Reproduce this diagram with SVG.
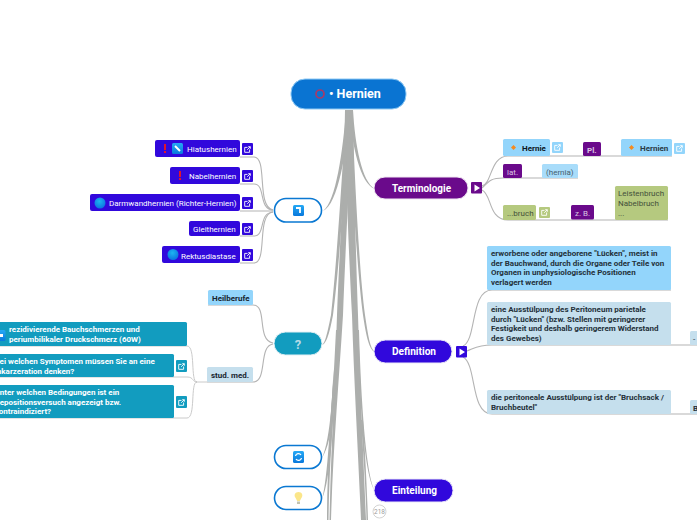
<svg xmlns="http://www.w3.org/2000/svg" width="697" height="520" viewBox="0 0 697 520">
<style>
text{font-family:Roboto,"Liberation Sans",sans-serif}
.t{fill:#acaeac}
.l{fill:none;stroke:#b4b4b4;stroke-width:1.1}
.lt{fill:none;stroke:#c4c4c4;stroke-width:.9}
.b{fill:#3108dc}
.s8{font-size:8px;fill:#fff}
.s8c{font-size:8px;font-weight:700;fill:#fff}
.d{font-size:8px;font-weight:700;fill:#24313a}
.g{font-size:8px;fill:#44503a}
.main{font-size:11.5px;font-weight:700;fill:#fff}
.hub{fill:#fff;stroke:#0a78d2;stroke-width:1.6}
.lk{fill:none;stroke:#fff;stroke-width:.9}
</style>
<defs>
<linearGradient id="ic" x1="0" y1="0" x2="0" y2="1"><stop offset="0" stop-color="#25a9f5"/><stop offset="1" stop-color="#0878dc"/></linearGradient>
<radialGradient id="glob" cx=".45" cy=".35" r=".7"><stop offset="0" stop-color="#1db4f0"/><stop offset="1" stop-color="#0a6ee0"/></radialGradient>
<g id="ln"><path class="lk" d="M7.600 5.500V8.300H2.700V3.400H5.500M5.200 5.800L8.200 2.800M6.200 2.700H8.300V4.800"/></g>
</defs>
<g id="connectors">
<path class="t" d="M345 110C344 180 339 260 337 315C335 380 331 450 329.500 520H331C333 450 339 380 343 315C345 260 349 180 353 110Z"/>
<path class="t" d="M345 110C346 180 349 260 352 315C354 380 358 450 361 520H366C363 450 360 380 358 315C356 260 354 180 353 110Z"/>
<path class="t" d="M346 110H349C345 180 339 270 333 315C329 336 326 344 322 345C325 343 327 335 331 315C336 270 342 180 346 110Z"/>
<path class="t" d="M348 110H352C355 180 359 270 365 315C368 335 370 349 375 352C369 350 366 335 363 315C357 270 352 180 348 110Z"/>
<path class="t" d="M346 110H350C347 150 338 205 323 211C336 202 343 150 346 110Z"/>
<path class="t" d="M349 110H353C355 145 362 182 375 189C360 184 352 145 349 110Z"/>
<path class="t" d="M336 330H338C336 390 334 440 322 458C331 438 333 390 336 330Z"/>
<path class="t" d="M334 370H336C333 420 331 480 322 499C328 478 330 420 334 370Z"/>
<path class="t" d="M333 380H335C332 430 329 480 328.500 520H327C327 480 330 430 333 380Z"/>
<path class="t" d="M357 330H359C361 400 366 475 375 491C364 475 360 400 357 330Z"/>
<path class="t" d="M361 420H363C365 450 367 490 368 520H366.500C366 490 363 450 361 420Z"/>
<path class="l" d="M240 157H254C268 157 256 207 273 210"/>
<path class="l" d="M240 184H254C266 184 258 209 273 210"/>
<path class="l" d="M240 211H254C262 211 264 211 273 211"/>
<path class="l" d="M240 236H254C266 236 258 213 273 212"/>
<path class="l" d="M240 263H254C268 263 256 214 273 212"/>
<path class="l" d="M208 305H253C268 305 256 340 273 343"/>
<path class="l" d="M207 382H253C268 382 258 346 273 344"/>
<path class="lt" d="M207 382H196"/>
<path class="lt" d="M0 346H187C196 346 190 382 197 382"/>
<path class="lt" d="M0 377H187C194 377 192 382 197 382"/>
<path class="lt" d="M0 418H187C196 418 190 382 197 382"/>
<path class="l" d="M482 186C492 184 490 156 508 156H672"/>
<path class="l" d="M482 188C490 180 492 178 503 178H578"/>
<path class="l" d="M482 190C492 194 488 220 508 220H668"/>
<path class="l" d="M463 346C477 340 470 290 492 290H671"/>
<path class="l" d="M467 351C475 348 478 345 492 345H697"/>
<path class="l" d="M463 357C477 364 470 414 492 414H697"/>
</g>
<g id="root"><rect x="291" y="79" width="115" height="30" rx="14" fill="#0a74d2" stroke="#8cc8f4" stroke-width="1"/><circle cx="320" cy="94" r="4" fill="none" stroke="#a83a68" stroke-width="1.700"/><text x="329" y="98" font-size="12.500" font-weight="700" fill="#fff">• Hernien</text></g>

<g id="n-hiatus"><rect class="b" x="155" y="140" width="85" height="17" rx="2"/><rect x="164" y="144" width="2" height="6" fill="#e0142c"/><rect x="164" y="151" width="2" height="2" fill="#e0142c"/><rect x="172" y="143" width="11" height="11" rx="1.500" fill="url(#ic)"/><path d="M175 146L180 151" stroke="#fff" stroke-width="2"/><text class="s8" x="187" y="152">Hiatushernien</text><rect class="b" x="242" y="143" width="11" height="12" rx="1"/><use href="#ln" x="242" y="144"/></g>
<g id="n-nabel"><rect class="b" x="170" y="167" width="70" height="17" rx="2"/><rect x="179" y="171" width="2" height="6" fill="#e0142c"/><rect x="179" y="178" width="2" height="2" fill="#e0142c"/><text class="s8" x="189" y="179">Nabelhernien</text><rect class="b" x="242" y="170" width="11" height="12" rx="1"/><use href="#ln" x="242" y="171"/></g>
<g id="n-darm"><rect class="b" x="90" y="194" width="150" height="17" rx="2"/><circle cx="100" cy="203" r="5.500" fill="url(#glob)"/><text class="s8" x="109" y="206">Darmwandhernien (Richter-Hernien)</text><rect class="b" x="242" y="197" width="11" height="12" rx="1"/><use href="#ln" x="242" y="198"/></g>
<g id="n-gleit"><rect class="b" x="189" y="221" width="51" height="15" rx="2"/><text class="s8" x="193" y="232">Gleithernien</text><rect class="b" x="242" y="223" width="11" height="12" rx="1"/><use href="#ln" x="242" y="224"/></g>
<g id="n-rektus"><rect class="b" x="162" y="246" width="78" height="17" rx="2"/><circle cx="173" cy="254.500" r="5.500" fill="url(#glob)"/><text class="s8" x="181" y="259">Rektusdiastase</text><rect class="b" x="242" y="249" width="11" height="12" rx="1"/><use href="#ln" x="242" y="250"/></g>
<g id="hub1"><rect class="hub" x="274.500" y="198.500" width="47" height="23.500" rx="11.500"/><rect x="293" y="205" width="11" height="11" rx="1.500" fill="url(#ic)"/><path d="M296 208H300V213" fill="none" stroke="#fff" stroke-width="1.800"/></g>

<g id="n-heilberufe"><rect x="208" y="290" width="45" height="15" rx="1.500" fill="#93d5fb"/><text x="212" y="301" font-size="8" font-weight="700" fill="#17242e">Heilberufe</text></g>
<g id="n-stud"><rect x="207" y="367" width="46" height="15" rx="1.500" fill="#c5dfed"/><text x="211" y="378" font-size="8" font-weight="700" fill="#17242e">stud. med.</text></g>
<g id="hub2"><rect x="274" y="332" width="48" height="23" rx="11.500" fill="#129cbf" stroke="#e4f0f4" stroke-width="1"/><text x="298" y="348.500" font-size="13" font-weight="700" fill="#b6dbe6" text-anchor="middle">?</text></g>
<g id="n-rez"><rect x="-10" y="322" width="197" height="24" rx="1.500" fill="#129cbf"/><rect x="-6" y="330" width="11.500" height="11" rx="1.500" fill="url(#ic)"/><rect x="-2" y="334" width="5" height="3" fill="#fff"/><text class="s8c" x="9" y="332">rezidivierende Bauchschmerzen und</text><text class="s8c" x="9" y="342">periumbilikaler Druckschmerz (60W)</text></g>
<g id="n-sym"><rect x="-10" y="354" width="184" height="23" rx="1.500" fill="#129cbf"/><text class="s8c" x="-5.500" y="364">Bei welchen Symptomen müssen Sie an eine</text><text class="s8c" x="-5.500" y="374">Inkarzeration denken?</text><rect x="176" y="360" width="11" height="12" rx="1" fill="#129cbf"/><use href="#ln" x="176" y="361"/></g>
<g id="n-bed"><rect x="-10" y="385" width="184" height="33" rx="1.500" fill="#129cbf"/><text class="s8c" x="-5.500" y="395">Unter welchen Bedingungen ist ein</text><text class="s8c" x="-5.500" y="405">Repositionsversuch angezeigt bzw.</text><text class="s8c" x="-5.500" y="414">kontraindiziert?</text><rect x="176" y="396" width="11" height="12" rx="1" fill="#129cbf"/><use href="#ln" x="176" y="397"/></g>

<g id="n-termin"><rect x="374" y="177" width="94" height="22" rx="11" fill="#6a0a8b" stroke="#f0e8f2" stroke-width="1"/><text class="main" x="392" y="192" textLength="59" lengthAdjust="spacingAndGlyphs">Terminologie</text><rect x="471" y="182" width="11" height="11.500" rx="1" fill="#6a0a8b"/><path d="M474.500 184.500L480 188L474.500 191.500Z" fill="#fff"/></g>
<g id="n-hernie"><rect x="503" y="139" width="47" height="17" rx="1.500" fill="#93d5fb"/><path d="M513.500 145L516 147.500L513.500 150L511 147.500Z" fill="#f58a1f"/><text x="522" y="151" font-size="8" font-weight="700" fill="#0c1620">Hernie</text><rect x="552" y="142" width="11" height="11" rx="1" fill="#93d5fb"/><use href="#ln" x="552" y="142"/></g>
<g id="n-pl"><rect x="583" y="142" width="18" height="14" rx="1.500" fill="#6a0a8b"/><text x="587" y="153" font-size="8" font-weight="700" fill="#d9c4e2">Pl.</text></g>
<g id="n-hernien"><rect x="621" y="139" width="51" height="17" rx="1.500" fill="#93d5fb"/><path d="M631.500 145L634 147.500L631.500 150L629 147.500Z" fill="#f58a1f"/><text x="640" y="151" font-size="8" font-weight="700" fill="#2a3a44">Hernien</text><rect x="674" y="143" width="11" height="11" rx="1" fill="#93d5fb"/><use href="#ln" x="674" y="143"/></g>
<g id="n-lat"><rect x="503" y="164" width="19" height="14" rx="1.500" fill="#6a0a8b"/><text x="507" y="175" font-size="8" fill="#d9c4e2">lat.</text></g>
<g id="n-hernia"><rect x="542" y="164" width="36" height="14" rx="1.500" fill="#a8dcfa"/><text x="546" y="175" font-size="8" fill="#46606e">(hernia)</text></g>
<g id="n-bruch"><rect x="503" y="205" width="33" height="15" rx="1.500" fill="#b5c97f"/><text class="g" x="507" y="216">...bruch</text><rect x="539" y="207" width="11" height="11" rx="1" fill="#b5c97f"/><use href="#ln" x="539" y="207"/></g>
<g id="n-zb"><rect x="571" y="205" width="23" height="14.500" rx="1.500" fill="#6a0a8b"/><text x="575" y="216" font-size="8" fill="#d9c4e2">z. B.</text></g>
<g id="n-leisten"><rect x="615" y="186" width="53" height="34" rx="1.500" fill="#b5c97f"/><text class="g" x="618" y="196">Leistenbruch</text><text class="g" x="618" y="206">Nabelbruch</text><text class="g" x="618" y="216">...</text></g>

<g id="n-def"><rect x="374" y="340" width="78" height="23" rx="11.500" class="b" stroke="#eceaf8" stroke-width="1"/><text class="main" x="392" y="355" textLength="44" lengthAdjust="spacingAndGlyphs">Definition</text><rect class="b" x="456" y="346" width="11" height="11.500" rx="1"/><path d="M459.500 348.500L465 352L459.500 355.500Z" fill="#fff"/></g>
<g id="n-d1"><rect x="487" y="246" width="184" height="44" rx="1.500" fill="#93d5fb"/><text class="d" x="491" y="256">erworbene oder angeborene "Lücken", meist in</text><text class="d" x="491" y="266">der Bauchwand, durch die Organe oder Teile von</text><text class="d" x="491" y="275">Organen in unphysiologische Positionen</text><text class="d" x="491" y="285">verlagert werden</text></g>
<g id="n-d2"><rect x="487" y="302" width="184" height="43" rx="1.500" fill="#c5dfed"/><text class="d" x="491" y="312">eine Ausstülpung des Peritoneum parietale</text><text class="d" x="491" y="322">durch "Lücken" (bzw. Stellen mit geringerer</text><text class="d" x="491" y="331">Festigkeit und deshalb geringerem Widerstand</text><text class="d" x="491" y="341">des Gewebes)</text></g>
<g id="n-d3"><rect x="487" y="390" width="184" height="24" rx="1.500" fill="#c5dfed"/><text class="d" x="491" y="400">die peritoneale Ausstülpung ist der "Bruchsack /</text><text class="d" x="491" y="410">Bruchbeutel"</text></g>
<g id="n-d2x"><rect x="690" y="331" width="10" height="14" rx="1.500" fill="#c5dfed"/><text x="693" y="342" font-size="8" fill="#24313a">-</text></g>
<g id="n-d3x"><rect x="690" y="400" width="10" height="14" rx="1.500" fill="#c5dfed"/><text x="693" y="411" font-size="8" font-weight="700" fill="#24313a">B</text></g>

<g id="hub3"><rect class="hub" x="274.500" y="445.500" width="47" height="23" rx="11.500"/><rect x="293" y="451" width="11" height="12" rx="1.500" fill="url(#ic)"/><path d="M295.500 456A3 3 0 0 1 301 455M301.500 458A3 3 0 0 1 296 459" fill="none" stroke="#fff" stroke-width="1.300"/></g>
<g id="hub4"><rect class="hub" x="274.500" y="486.500" width="47" height="23" rx="11.500"/><path d="M298.500 492C295 492 294 495 295 497C296 499 297 500 297 501H300C300 500 301 499 302 497C303 495 302 492 298.500 492Z" fill="#fbe68a"/><rect x="297" y="501.500" width="3" height="2.500" fill="#c4c4b0"/></g>
<g id="n-eint"><rect x="374" y="479" width="79" height="23" rx="11.500" class="b" stroke="#eceaf8" stroke-width="1"/><text class="main" x="392" y="494" textLength="45" lengthAdjust="spacingAndGlyphs">Einteilung</text></g>
<g id="badge"><circle cx="379.500" cy="511.500" r="6.500" fill="#fff" stroke="#c8c8c8" stroke-width=".8"/><text x="379.500" y="514" font-size="6.500" fill="#9a9a9a" text-anchor="middle">218</text></g>
</svg>
